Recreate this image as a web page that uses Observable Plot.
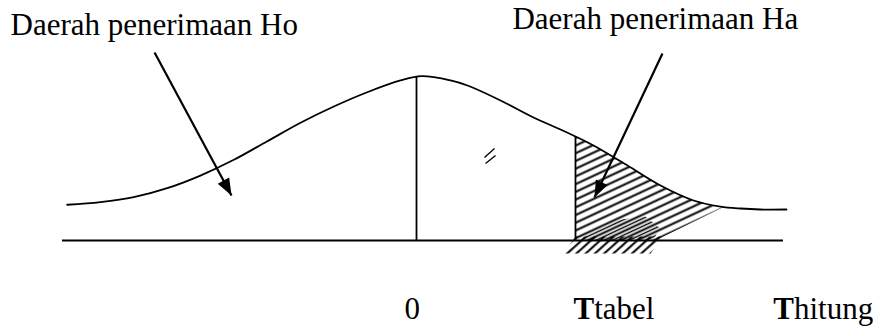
<!DOCTYPE html>
<html>
<head>
<meta charset="utf-8">
<script src="https://cdn.jsdelivr.net/npm/d3@7"></script>
<script src="https://cdn.jsdelivr.net/npm/@observablehq/plot@0.6"></script>
<style>
  html, body { margin: 0; padding: 0; background: #fff; }
  #chart svg { display: block; }
</style>
</head>
<body>
<div id="chart"></div>
<script>
// ---- data (t-units on x, relative height on y) ----
const curveT = [-2.687, -2.431, -2.175, -1.918, -1.662, -1.405, -1.148, -0.892, -0.636, -0.379, -0.123, 0.040, 0.262, 0.392, 0.646, 0.900, 1.108, 1.223, 1.362, 1.623, 1.877, 2.131, 2.338, 2.492, 2.646, 2.846];
const curveY = [0.218, 0.234, 0.264, 0.319, 0.396, 0.492, 0.605, 0.718, 0.817, 0.904, 0.976, 1.002, 0.976, 0.945, 0.854, 0.750, 0.677, 0.634, 0.579, 0.457, 0.335, 0.244, 0.207, 0.195, 0.189, 0.189];

const axisStart = -2.723;
const axisEnd = 2.823;

const meanT = 0;
const meanTop = 0.995;
const tTabel = 1.223;
const tTabelTop = 0.634;
const tHitung = 2.745;

// hatched rejection area (Ha)
const hatchT = [1.223, 1.223, 1.362, 1.623, 1.877, 2.131, 2.354, 1.838];
const hatchY = [0, 0.634, 0.579, 0.457, 0.335, 0.244, 0.201, 0];

// short strokes crossing the baseline
const strokesT = [1.131, 1.800, 1.892, 1.223];
const strokesY = [-0.079, -0.079, 0.024, 0.024];

// extra dense hatching just above the baseline
const denseT = [1.262, 1.815, 1.877, 1.762, 1.508, 1.338];
const denseY = [0, 0, 0.073, 0.146, 0.122, 0.061];

// small "//" mark
const tickMarks = [
  {x1: 0.523, y1: 0.506, x2: 0.600, y2: 0.561},
  {x1: 0.531, y1: 0.470, x2: 0.608, y2: 0.518}
];

// arrows (start -> tip)
const arrows = [
  {x1: -2.015, y1: 1.146, x2: -1.423, y2: 0.274},
  {x1: 1.892, y1: 1.140, x2: 1.369, y2: 0.262}
];

// labels
const topLabels = [
  {x: -3.123, y: 1.256, text: "Daerah penerimaan Ho"},
  {x: 0.738, y: 1.287, text: "Daerah penerimaan Ha"}
];
const bottomY = -0.476;
const zeroLabel = [{x: -0.092, y: bottomY, text: "0"}];
const boldParts = [
  {x: tTabel - 0.015, y: bottomY, text: "T"},
  {x: tHitung, y: bottomY, text: "T"}
];
const restParts = [
  {text: "tabel"},
  {text: "hitung"}
];

// ---- scales ----
const W = 882, H = 326;
const xDomain = [-3.2, 3.5846];
const yDomain = [0, 1];
const yRange = [240, 76];
const xs = d3.scaleLinear(xDomain, [0, W]);
const ys = d3.scaleLinear(yDomain, yRange);

const toPts = (T, Y) => T.map((t, i) => ({x: t, y: Y[i]}));
const curve = toPts(curveT, curveY);
const hatch = toPts(hatchT, hatchY);
const strokes = toPts(strokesT, strokesY);
const dense = toPts(denseT, denseY);
const heads = arrows.map(a => {
  const dx = xs(a.x2) - xs(a.x1), dy = ys(a.y2) - ys(a.y1);
  return {x: a.x2, y: a.y2, angle: Math.atan2(dx, -dy) * 180 / Math.PI};
});
const boldW = 20.6; // px width of bold "T"
const rest = restParts.map((r, i) => ({x: boldParts[i].x + boldW / (W / (xDomain[1] - xDomain[0])), y: boldParts[i].y, text: r.text}));

const headSymbol = {
  draw(ctx) {
    ctx.moveTo(0, 0);
    ctx.lineTo(-6.5, 17);
    ctx.lineTo(6.5, 17);
    ctx.closePath();
  }
};

const SVGNS = "http://www.w3.org/2000/svg";
function defsMark() {
  const defs = document.createElementNS(SVGNS, "defs");
  defs.innerHTML = `
    <pattern id="hatchA" patternUnits="userSpaceOnUse" width="40" height="7" patternTransform="rotate(-25)">
      <line x1="0" y1="3.5" x2="40" y2="3.5" stroke="black" stroke-width="2.1"/>
    </pattern>
    <pattern id="hatchA2" patternUnits="userSpaceOnUse" width="40" height="7" patternTransform="rotate(-25) translate(0,3.5)">
      <line x1="0" y1="3.5" x2="40" y2="3.5" stroke="black" stroke-width="1.7"/>
    </pattern>
    <pattern id="hatchB" patternUnits="userSpaceOnUse" width="40" height="6.2" patternTransform="rotate(-42)">
      <line x1="0" y1="3" x2="40" y2="3" stroke="black" stroke-width="1.9"/>
    </pattern>`;
  return defs;
}

const font = "'Liberation Serif', 'Times New Roman', serif";
const fs = 31;

const chart = Plot.plot({
  width: W,
  height: H,
  margin: 0,
  style: {background: "#fff", color: "black"},
  x: {domain: xDomain, axis: null},
  y: {domain: yDomain, range: yRange, axis: null},
  marks: [
    defsMark,
    Plot.line(hatch, {x: "x", y: "y", fill: "url(#hatchA)", stroke: "none"}),
    Plot.line(dense, {x: "x", y: "y", fill: "url(#hatchA2)", stroke: "none"}),
    Plot.line(strokes, {x: "x", y: "y", fill: "url(#hatchB)", stroke: "none"}),
    Plot.ruleY([0], {x1: axisStart, x2: axisEnd, stroke: "black", strokeWidth: 1.8}),
    Plot.ruleX([{x: meanT, top: meanTop}, {x: tTabel, top: tTabelTop}], {x: "x", y1: 0, y2: "top", stroke: "black", strokeWidth: 1.8}),
    Plot.line(curve, {x: "x", y: "y", curve: "catmull-rom", stroke: "black", strokeWidth: 1.8}),
    Plot.link(tickMarks, {x1: "x1", y1: "y1", x2: "x2", y2: "y2", stroke: "black", strokeWidth: 1.3}),
    Plot.link(arrows, {x1: "x1", y1: "y1", x2: "x2", y2: "y2", stroke: "black", strokeWidth: 2.2}),
    Plot.dot(heads, {x: "x", y: "y", rotate: "angle", symbol: headSymbol, fill: "black", stroke: "none", r: 5}),
    Plot.text(topLabels, {x: "x", y: "y", text: "text", textAnchor: "start", lineAnchor: "bottom", fontFamily: font, fontSize: fs, fill: "black"}),
    Plot.text(zeroLabel, {x: "x", y: "y", text: "text", textAnchor: "start", lineAnchor: "bottom", fontFamily: font, fontSize: fs, fill: "black"}),
    Plot.text(boldParts, {x: "x", y: "y", text: "text", textAnchor: "start", lineAnchor: "bottom", fontFamily: font, fontSize: fs, fontWeight: "bold", fill: "black"}),
    Plot.text(rest, {x: "x", y: "y", text: "text", textAnchor: "start", lineAnchor: "bottom", fontFamily: font, fontSize: fs, fill: "black"})
  ]
});

document.getElementById("chart").appendChild(chart);
</script>
</body>
</html>
